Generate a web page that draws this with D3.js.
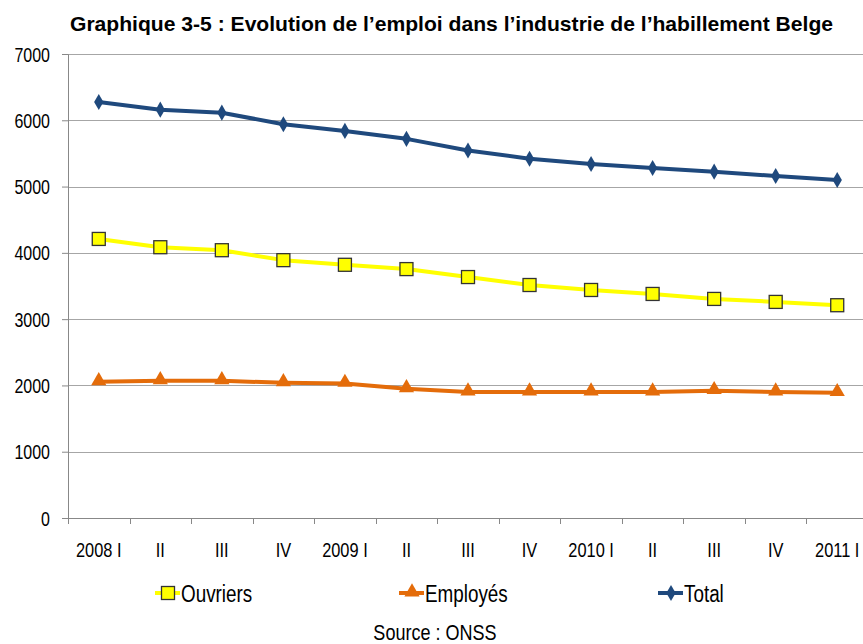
<!DOCTYPE html>
<html>
<head>
<meta charset="utf-8">
<script src="https://cdn.jsdelivr.net/npm/d3@7"></script>
<style>
  body { margin: 0; background: #fff; }
  text { font-family: "Liberation Sans", Arial, sans-serif; fill: #000; }
</style>
</head>
<body>
<div id="chart"></div>
<script>
// data
const quarters = ["2008 I", "II", "III", "IV", "2009 I", "II", "III", "IV", "2010 I", "II", "III", "IV", "2011 I"]
const ouvriers = [4210, 4085, 4040, 3890, 3820, 3755, 3635, 3515, 3440, 3380, 3305, 3260, 3210]
const employes = [2055, 2070, 2070, 2040, 2030, 1950, 1900, 1900, 1900, 1900, 1920, 1900, 1890]
const total = [6275, 6160, 6115, 5940, 5840, 5720, 5545, 5420, 5340, 5280, 5225, 5160, 5100]
const yTicks = [0, 1000, 2000, 3000, 4000, 5000, 6000, 7000]

// no narrow font installed: squeeze Liberation Sans horizontally
const narrow = 0.82

function drawChart() {
  const dimensions = {
    width: 863,
    height: 644,
    margin: { top: 54, right: -5, bottom: 126, left: 68 },
  }
  dimensions.boundedWidth = dimensions.width - dimensions.margin.left - dimensions.margin.right
  dimensions.boundedHeight = dimensions.height - dimensions.margin.top - dimensions.margin.bottom

  const wrapper = d3.select("#chart").append("svg")
    .attr("width", dimensions.width)
    .attr("height", dimensions.height)

  const bounds = wrapper.append("g")
    .attr("transform", `translate(${dimensions.margin.left},${dimensions.margin.top})`)

  const addText = (parent, x, y, str, size, anchor = "start") =>
    parent.append("text")
      .attr("transform", `translate(${x},${y}) scale(${narrow},1)`)
      .attr("text-anchor", anchor)
      .style("font-size", size + "px")
      .text(str)

  // scales
  const xScale = d3.scaleBand()
    .domain(d3.range(quarters.length))
    .range([0, dimensions.boundedWidth])
  const xCenter = i => xScale(i) + xScale.bandwidth() / 2

  const yScale = d3.scaleLinear()
    .domain([0, 7000])
    .range([dimensions.boundedHeight, 0])

  // gridlines
  bounds.append("g")
    .selectAll("line")
    .data(yTicks.filter(d => d > 0))
    .join("line")
      .attr("x1", 0)
      .attr("x2", dimensions.boundedWidth)
      .attr("y1", d => Math.round(yScale(d)) + 0.5)
      .attr("y2", d => Math.round(yScale(d)) + 0.5)
      .attr("stroke", "#a6a6a6")
      .attr("stroke-width", 1)

  // y axis
  const yAxisGenerator = d3.axisLeft(yScale)
    .tickValues(yTicks)
    .tickSize(6)
    .tickFormat(d3.format("d"))
  const yAxis = bounds.append("g").call(yAxisGenerator)
  yAxis.select(".domain").attr("stroke", "#888")
  yAxis.selectAll(".tick line").attr("stroke", "#888")
  yAxis.selectAll(".tick text")
    .attr("x", null)
    .attr("dy", null)
    .attr("transform", `translate(-18,7) scale(${narrow},1)`)
    .style("font-size", "19.5px")
    .attr("fill", "#000")

  // x axis
  const xAxis = bounds.append("g")
    .attr("transform", `translate(0,${dimensions.boundedHeight})`)
  xAxis.append("line")
    .attr("x1", 0).attr("x2", dimensions.boundedWidth)
    .attr("y1", 0.5).attr("y2", 0.5)
    .attr("stroke", "#888")
  xAxis.selectAll(".xtick")
    .data(d3.range(quarters.length))
    .join("line")
      .attr("class", "xtick")
      .attr("x1", d => Math.round(xScale(d)) + 0.5)
      .attr("x2", d => Math.round(xScale(d)) + 0.5)
      .attr("y1", 0).attr("y2", 6)
      .attr("stroke", "#888")
  quarters.forEach((q, i) => addText(xAxis, xCenter(i), 39, q, 20, "middle"))

  // lines
  const series = [
    { name: "Ouvriers", values: ouvriers, color: "#ffff00", marker: "square" },
    { name: "Employés", values: employes, color: "#e46c0a", marker: "triangle" },
    { name: "Total", values: total, color: "#1f497d", marker: "diamond" },
  ]

  const lineGenerator = d3.line()
    .x((d, i) => xCenter(i))
    .y(d => yScale(d))

  const drawMarker = (g, s, x, y) => {
    if (s.marker === "square") {
      g.append("rect")
        .attr("x", x - 6.5).attr("y", y - 6.5)
        .attr("width", 13).attr("height", 13)
        .attr("fill", s.color)
        .attr("stroke", "#333")
        .attr("stroke-width", 1.3)
    } else if (s.marker === "triangle") {
      g.append("path")
        .attr("d", d3.symbol(d3.symbolTriangle, 100)())
        .attr("transform", `translate(${x},${y - 1})`)
        .attr("fill", s.color)
    } else {
      g.append("path")
        .attr("d", d3.symbol(d3.symbolDiamond, 75)())
        .attr("transform", `translate(${x},${y})`)
        .attr("fill", s.color)
    }
  }

  series.forEach(s => {
    bounds.append("path")
      .attr("d", lineGenerator(s.values))
      .attr("fill", "none")
      .attr("stroke", s.color)
      .attr("stroke-width", 4)
      .attr("stroke-linejoin", "round")
    const mg = bounds.append("g")
    s.values.forEach((v, i) => drawMarker(mg, s, xCenter(i), yScale(v)))
  })

  // title
  wrapper.append("text")
    .attr("x", 70)
    .attr("y", 31)
    .attr("textLength", 763)
    .attr("lengthAdjust", "spacingAndGlyphs")
    .style("font-size", "21px")
    .style("font-weight", "bold")
    .text("Graphique 3-5 : Evolution de l\u2019emploi dans l\u2019industrie de l\u2019habillement Belge")

  // legend
  const legendX = [155, 399, 658]
  const legend = wrapper.append("g")
  series.forEach((s, i) => {
    const x = legendX[i]
    const y = 593
    legend.append("line")
      .attr("x1", x).attr("x2", x + 25)
      .attr("y1", y).attr("y2", y)
      .attr("stroke", s.color)
      .attr("stroke-width", 4)
    drawMarker(legend, s, x + 13, y)
    addText(legend, x + 26, y + 9, s.name, 23)
  })

  // source
  addText(wrapper, 435, 640, "Source : ONSS", 22, "middle")
}

drawChart()
</script>
</body>
</html>
